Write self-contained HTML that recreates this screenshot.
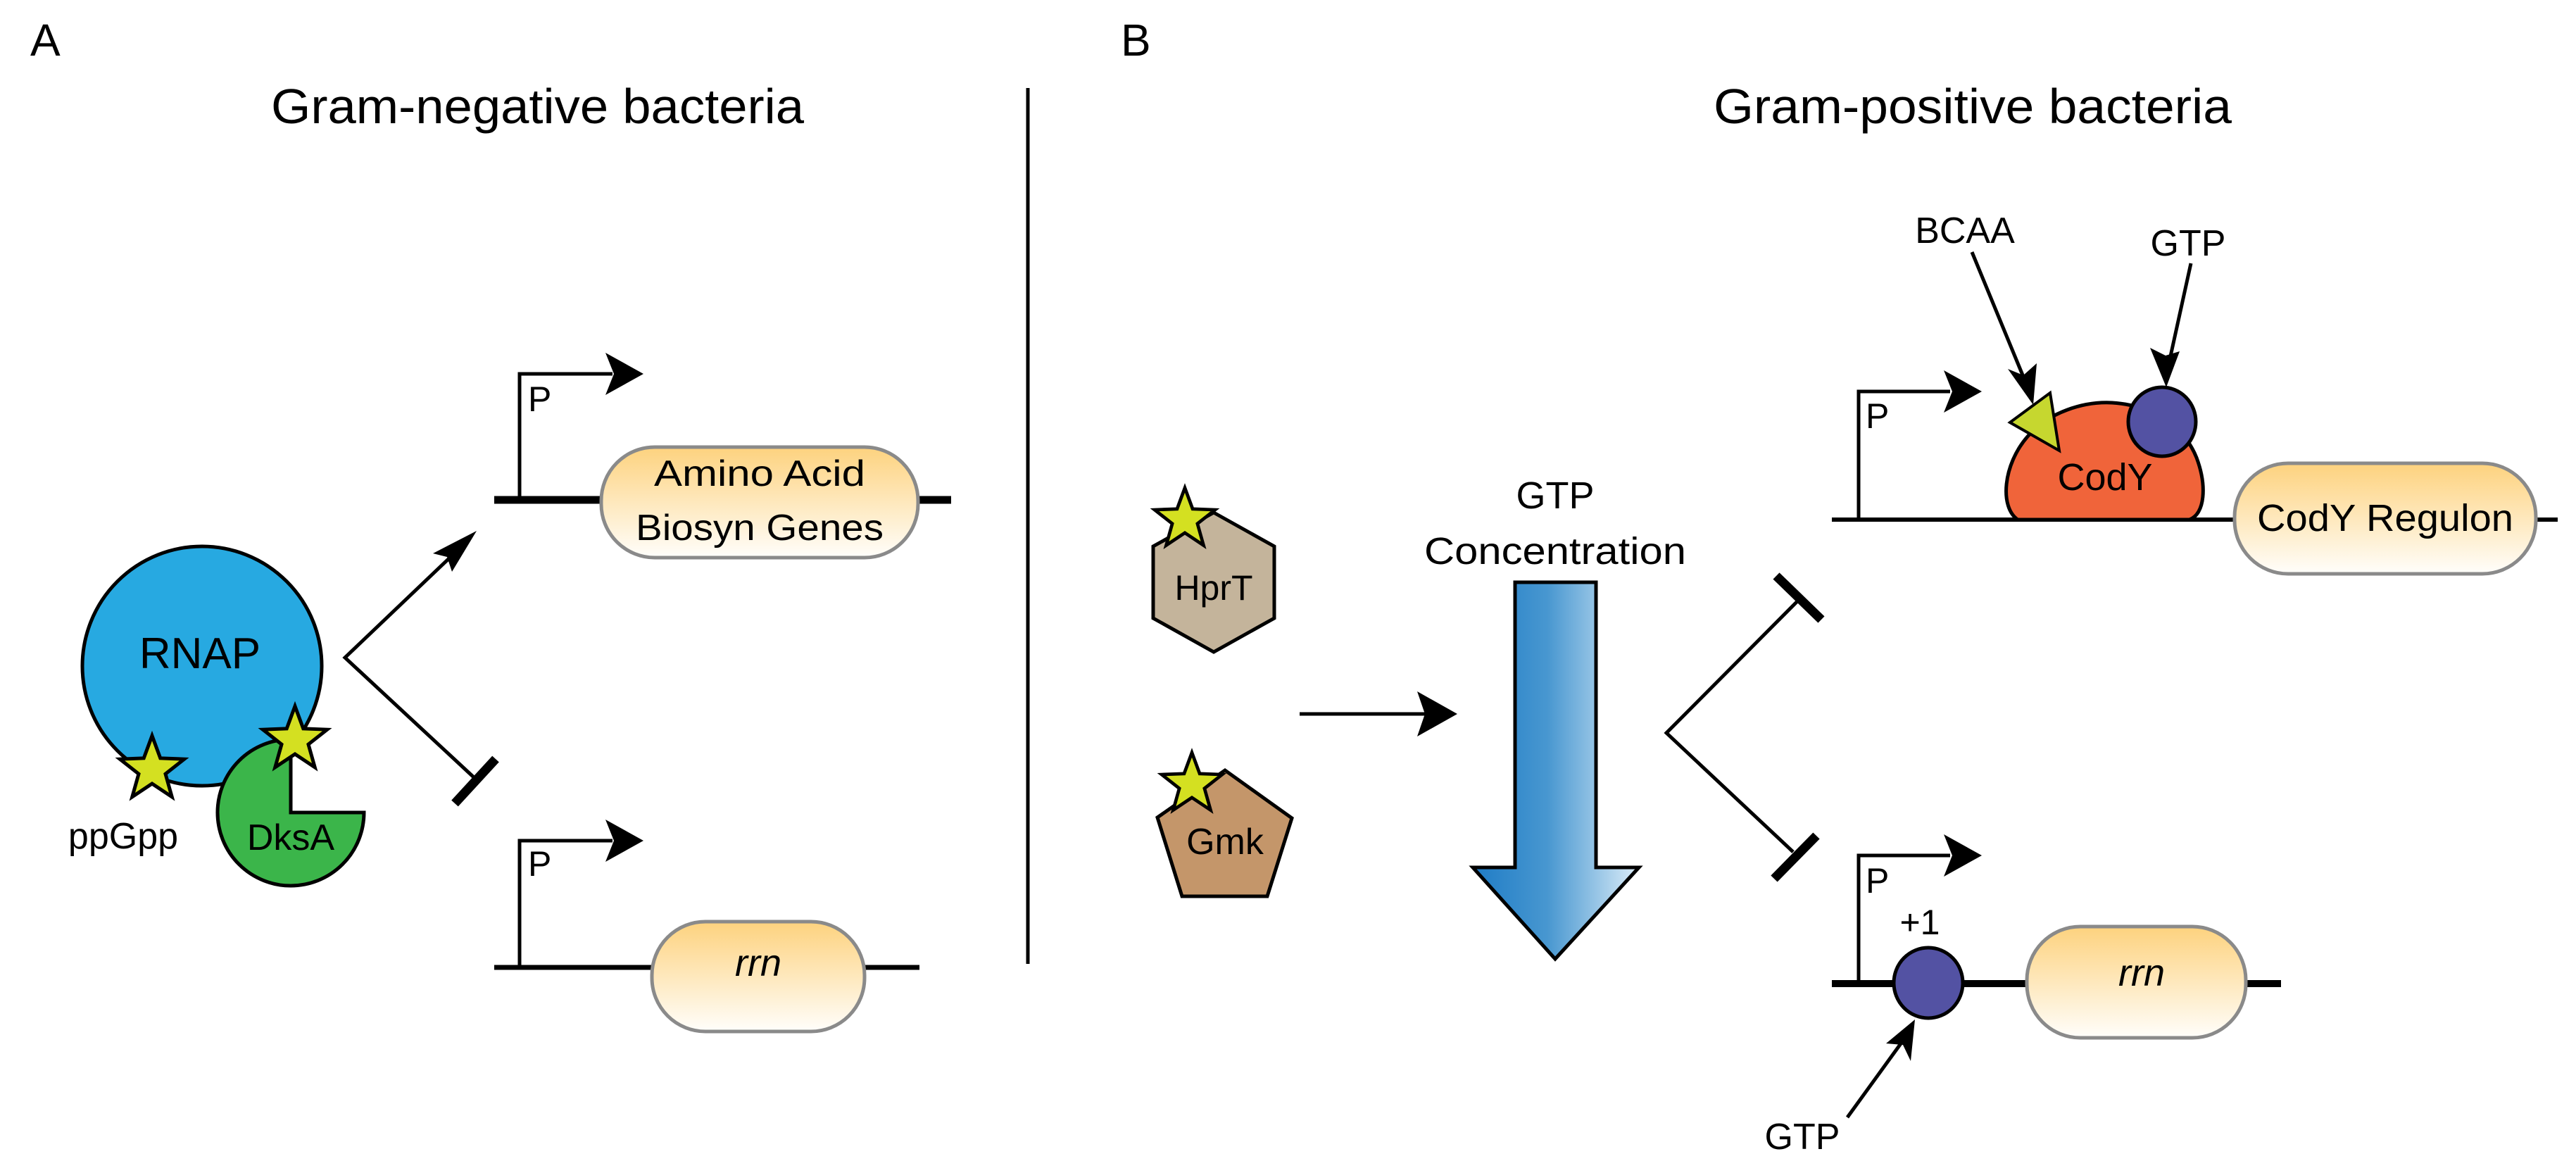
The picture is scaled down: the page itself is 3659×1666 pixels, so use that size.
<!DOCTYPE html>
<html><head><meta charset="utf-8"><style>html,body{margin:0;padding:0;background:#fff}svg{display:block}</style></head>
<body>
<svg width="3659" height="1666" viewBox="0 0 3659 1666" xmlns="http://www.w3.org/2000/svg" font-family="Liberation Sans, sans-serif" fill="#000">
<defs>
<polygon id="star" points="0,-48 11.76,-16.18 45.65,-14.83 19.02,6.18 28.21,38.83 0,20 -28.21,38.83 -19.02,6.18 -45.65,-14.83 -11.76,-16.18" fill="#d4e021" stroke="#000" stroke-width="5" stroke-linejoin="miter"/>
<linearGradient id="gene" x1="0" y1="0" x2="0" y2="1"><stop offset="0" stop-color="#fdd27e"/><stop offset="1" stop-color="#fffefb"/></linearGradient>
<linearGradient id="blue" x1="0" y1="0" x2="1" y2="0"><stop offset="0" stop-color="#1f7cc6"/><stop offset="0.45" stop-color="#4897d0"/><stop offset="1" stop-color="#dcedf9"/></linearGradient>
</defs>

<!-- Labels -->
<text x="43" y="79" font-size="64">A</text>
<text x="1592" y="79" font-size="64">B</text>
<text x="385" y="175" font-size="70" textLength="757" lengthAdjust="spacingAndGlyphs">Gram-negative bacteria</text>
<text x="2434" y="175" font-size="70" textLength="736" lengthAdjust="spacingAndGlyphs">Gram-positive bacteria</text>

<!-- divider -->
<line x1="1460" y1="125" x2="1460" y2="1369" stroke="#000" stroke-width="5"/>

<!-- ===== Panel A ===== -->
<!-- upper gene -->
<line x1="702" y1="710" x2="1351" y2="710" stroke="#000" stroke-width="11"/>
<polyline points="738,710 738,531 870,531" fill="none" stroke="#000" stroke-width="5"/>
<polygon points="914,531 860,501 872,531 860,561"/>
<text x="750" y="584" font-size="50">P</text>
<rect x="854" y="635" width="450" height="157" rx="76" fill="url(#gene)" stroke="#8a8a8a" stroke-width="5"/>
<text x="1079" y="690" font-size="52" text-anchor="middle" textLength="300" lengthAdjust="spacingAndGlyphs">Amino Acid</text>
<text x="1079" y="767" font-size="52" text-anchor="middle" textLength="352" lengthAdjust="spacingAndGlyphs">Biosyn Genes</text>

<!-- lower gene -->
<line x1="702" y1="1374" x2="1306" y2="1374" stroke="#000" stroke-width="7"/>
<polyline points="738,1374 738,1194 870,1194" fill="none" stroke="#000" stroke-width="5"/>
<polygon points="914,1194 860,1164 872,1194 860,1224"/>
<text x="750" y="1244" font-size="50">P</text>
<rect x="926" y="1309" width="302" height="156" rx="76" fill="url(#gene)" stroke="#8a8a8a" stroke-width="5"/>
<text x="1077" y="1386" font-size="54" font-style="italic" text-anchor="middle">rrn</text>

<!-- fork A -->
<polyline points="662,770 490,934 673,1104" fill="none" stroke="#000" stroke-width="5"/>
<polygon points="677,754 615,786 635,791 642,812"/>
<line x1="646" y1="1141" x2="704" y2="1078" stroke="#000" stroke-width="13"/>

<!-- RNAP -->
<circle cx="287" cy="946" r="170" fill="#27a9e1" stroke="#000" stroke-width="5"/>
<text x="284" y="949" font-size="62" text-anchor="middle">RNAP</text>
<path d="M413,1154 L413,1050 A104,104 0 1 0 517,1154 Z" fill="#3bb54a" stroke="#000" stroke-width="5"/>
<use href="#star" x="216" y="1093"/>
<use href="#star" x="419" y="1051"/>
<text x="175" y="1205" font-size="52" text-anchor="middle">ppGpp</text>
<text x="413" y="1207" font-size="52" text-anchor="middle">DksA</text>

<!-- ===== Panel B ===== -->
<polygon points="1724,728 1810,776 1810,878 1724,926 1638,878 1638,776" fill="#c4b49b" stroke="#000" stroke-width="5"/>
<text x="1724" y="852" font-size="50" text-anchor="middle">HprT</text>
<use href="#star" transform="translate(1683,738) scale(0.94)"/>

<polygon points="1740,1094 1835,1162 1800,1273 1679,1273 1644,1161" fill="#c4966a" stroke="#000" stroke-width="5"/>
<text x="1740" y="1213" font-size="52" text-anchor="middle">Gmk</text>
<use href="#star" transform="translate(1693,1114) scale(0.94)"/>

<line x1="1846" y1="1014" x2="2030" y2="1014" stroke="#000" stroke-width="5"/>
<polygon points="2070,1014 2013,982 2024,1014 2013,1046"/>

<text x="2209" y="722" font-size="54" text-anchor="middle">GTP</text>
<text x="2209" y="801" font-size="54" text-anchor="middle" textLength="372" lengthAdjust="spacingAndGlyphs">Concentration</text>
<polygon points="2152,827 2267,827 2267,1232 2328,1232 2209,1362 2092,1232 2152,1232" fill="url(#blue)" stroke="#000" stroke-width="5" stroke-linejoin="miter"/>

<!-- fork B -->
<polyline points="2553,854 2367,1041 2547,1210" fill="none" stroke="#000" stroke-width="5"/>
<line x1="2523" y1="818" x2="2587" y2="880" stroke="#000" stroke-width="13"/>
<line x1="2520" y1="1248" x2="2580" y2="1187" stroke="#000" stroke-width="13"/>

<!-- upper CodY gene -->
<line x1="2602" y1="738" x2="3633" y2="738" stroke="#000" stroke-width="6"/>
<polyline points="2640,738 2640,556 2770,556" fill="none" stroke="#000" stroke-width="5"/>
<polygon points="2815,556 2761,526 2773,556 2761,586"/>
<text x="2650" y="608" font-size="50">P</text>
<path d="M2866,738 C2840,720 2845,660 2880,620 C2910,585 2960,570 3000,572 C3050,575 3100,600 3120,650 C3135,690 3132,730 3110,738 Z" fill="#f0643a" stroke="#000" stroke-width="5"/>
<text x="2990" y="696" font-size="54" text-anchor="middle">CodY</text>
<polygon points="2855,600 2912,558 2925,640" fill="#c6d72f" stroke="#000" stroke-width="4"/>
<ellipse cx="3071" cy="599" rx="48" ry="49" fill="#5352a3" stroke="#000" stroke-width="5"/>
<rect x="3174" y="658" width="428" height="157" rx="76" fill="url(#gene)" stroke="#8a8a8a" stroke-width="5"/>
<text x="3388" y="754" font-size="54" text-anchor="middle" textLength="364" lengthAdjust="spacingAndGlyphs">CodY Regulon</text>

<text x="2791" y="345" font-size="52" text-anchor="middle">BCAA</text>
<text x="3108" y="363" font-size="52" text-anchor="middle">GTP</text>
<line x1="2801" y1="358" x2="2876" y2="540" stroke="#000" stroke-width="5"/>
<polygon points="2888,575 2852,524 2874,533 2893,516"/>
<line x1="3112" y1="374" x2="3081" y2="515" stroke="#000" stroke-width="5"/>
<polygon points="3077,550 3054,494 3076,505 3096,499"/>

<!-- lower rrn gene -->
<line x1="2602" y1="1397" x2="3240" y2="1397" stroke="#000" stroke-width="10"/>
<polyline points="2640,1397 2640,1215 2770,1215" fill="none" stroke="#000" stroke-width="5"/>
<polygon points="2815,1215 2761,1185 2773,1215 2761,1245"/>
<text x="2650" y="1268" font-size="50">P</text>
<text x="2727" y="1327" font-size="50" text-anchor="middle">+1</text>
<ellipse cx="2739" cy="1396" rx="49" ry="50" fill="#5352a3" stroke="#000" stroke-width="5"/>
<rect x="2879" y="1316" width="311" height="158" rx="76" fill="url(#gene)" stroke="#8a8a8a" stroke-width="5"/>
<text x="3042" y="1400" font-size="54" font-style="italic" text-anchor="middle">rrn</text>
<line x1="2624" y1="1587" x2="2703" y2="1478" stroke="#000" stroke-width="5"/>
<polygon points="2720,1448 2714,1507 2703,1484 2679,1482"/>
<text x="2560" y="1632" font-size="52" text-anchor="middle">GTP</text>
</svg>
</body></html>
